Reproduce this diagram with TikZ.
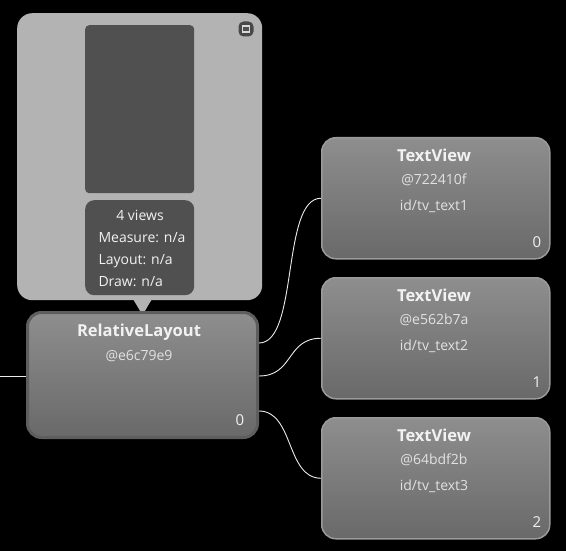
\documentclass[tikz,border=0pt]{standalone}
\usepackage{fontspec}
\setmainfont{Open Sans}
\definecolor{popgray}{HTML}{B3B3B3}
\definecolor{paneldark}{HTML}{505050}
\definecolor{boxtop}{HTML}{8E8E8E}
\definecolor{boxbottom}{HTML}{696969}
\definecolor{boxedge}{HTML}{5E5E5E}
\definecolor{tvedge}{HTML}{9A9A9A}
\definecolor{textlight}{HTML}{F2F2F2}
\definecolor{textdim}{HTML}{E2E2E2}
\tikzset{
	viewbox/.style={rounded corners=14pt, top color=boxtop, bottom color=boxbottom, anchor=north west, inner sep=0pt},
	vtitle/.style={text=textlight, font=\fontsize{16.5}{19}\selectfont\bfseries},
	vline/.style={text=textdim, font=\fontsize{14}{16}\selectfont},
	vindex/.style={text=textlight, font=\fontsize{15}{17}\selectfont},
	infoline/.style={text=textlight, font=\fontsize{14}{16}\selectfont, anchor=base west},
	wire/.style={draw=white!92!black, line width=0.9pt},
}
\begin{document}
\begin{tikzpicture}[x=1pt, y=-1pt]
	\useasboundingbox[fill=black] (0,0) rectangle (566,551);
	% popup
	\node[fill=popgray, rounded corners=15pt, minimum width=245pt, minimum height=287pt, anchor=north west, inner sep=0pt] (popup) at (17,13) {};
	\fill[popgray] (133,299) -- (152,299) -- (142.5,315) -- cycle;
	\node[fill=paneldark, rounded corners=4pt, minimum width=109pt, minimum height=168pt, anchor=north west, inner sep=0pt] (preview) at (85,25) {};
	\node[fill=paneldark, rounded corners=9pt, minimum width=109pt, minimum height=95pt, anchor=north west, inner sep=0pt] (info) at (85,200) {};
	\node[fill=paneldark!90!black, rounded corners=5pt, minimum width=15pt, minimum height=15pt, inner sep=0pt] (maxicon) at (246,29) {};
	\node[draw=white!85!black, fill=paneldark, line width=1.2pt, minimum width=7pt, minimum height=6pt, inner sep=0pt] (maxinner) at (maxicon) {};
	\node[infoline, anchor=base] (views) at (140,221) {4 views};
	\node[infoline] (measure) at (95,243) {Measure: n/a};
	\node[infoline] (layout) at (95,265) {Layout: n/a};
	\node[infoline] (draw) at (95,287) {Draw: n/a};
	% parent
	\node[viewbox, draw=boxedge, line width=3pt, minimum width=230pt, minimum height=125pt] (rl) at (26,311) {};
	\node[vtitle] (rl-name) at (139,332) {RelativeLayout};
	\node[vline] (rl-hash) at (139,356) {@e6c79e9};
	\node[vindex] (rl-index) at (240,420) {0};
	% children
	\foreach \i/\n/\top/\hash in {1/0/137/@722410f, 2/1/277/@e562b7a, 3/2/417/@64bdf2b}{
		\node[viewbox, draw=tvedge, line width=1.5pt, minimum width=228pt, minimum height=121pt] (tv\i) at (321,\top) {};
		\node[vtitle] (tv\i-name) at (434,\top+18) {TextView};
		\node[vline] (tv\i-hash) at (434,\top+43) {\hash};
		\node[vline] (tv\i-id) at (434,\top+69) {id/tv\_text\i};
		\node[vindex] (tv\i-index) at (537,\top+105) {\n};
	};
	% wires
	\coordinate (in-end) at (0,376);
	\draw[wire] (in-end) -- (in-end -| rl.west);
	\draw[wire] ([yshift=32pt]rl.east) .. controls +(40pt,0) and +(-40pt,0) .. (tv1.west);
	\draw[wire] ([yshift=-1pt]rl.east) .. controls +(35pt,0) and +(-35pt,0) .. (tv2.west);
	\draw[wire] ([yshift=-36pt]rl.east) .. controls +(35pt,0) and +(-35pt,0) .. (tv3.west);
\end{tikzpicture}
\end{document}
